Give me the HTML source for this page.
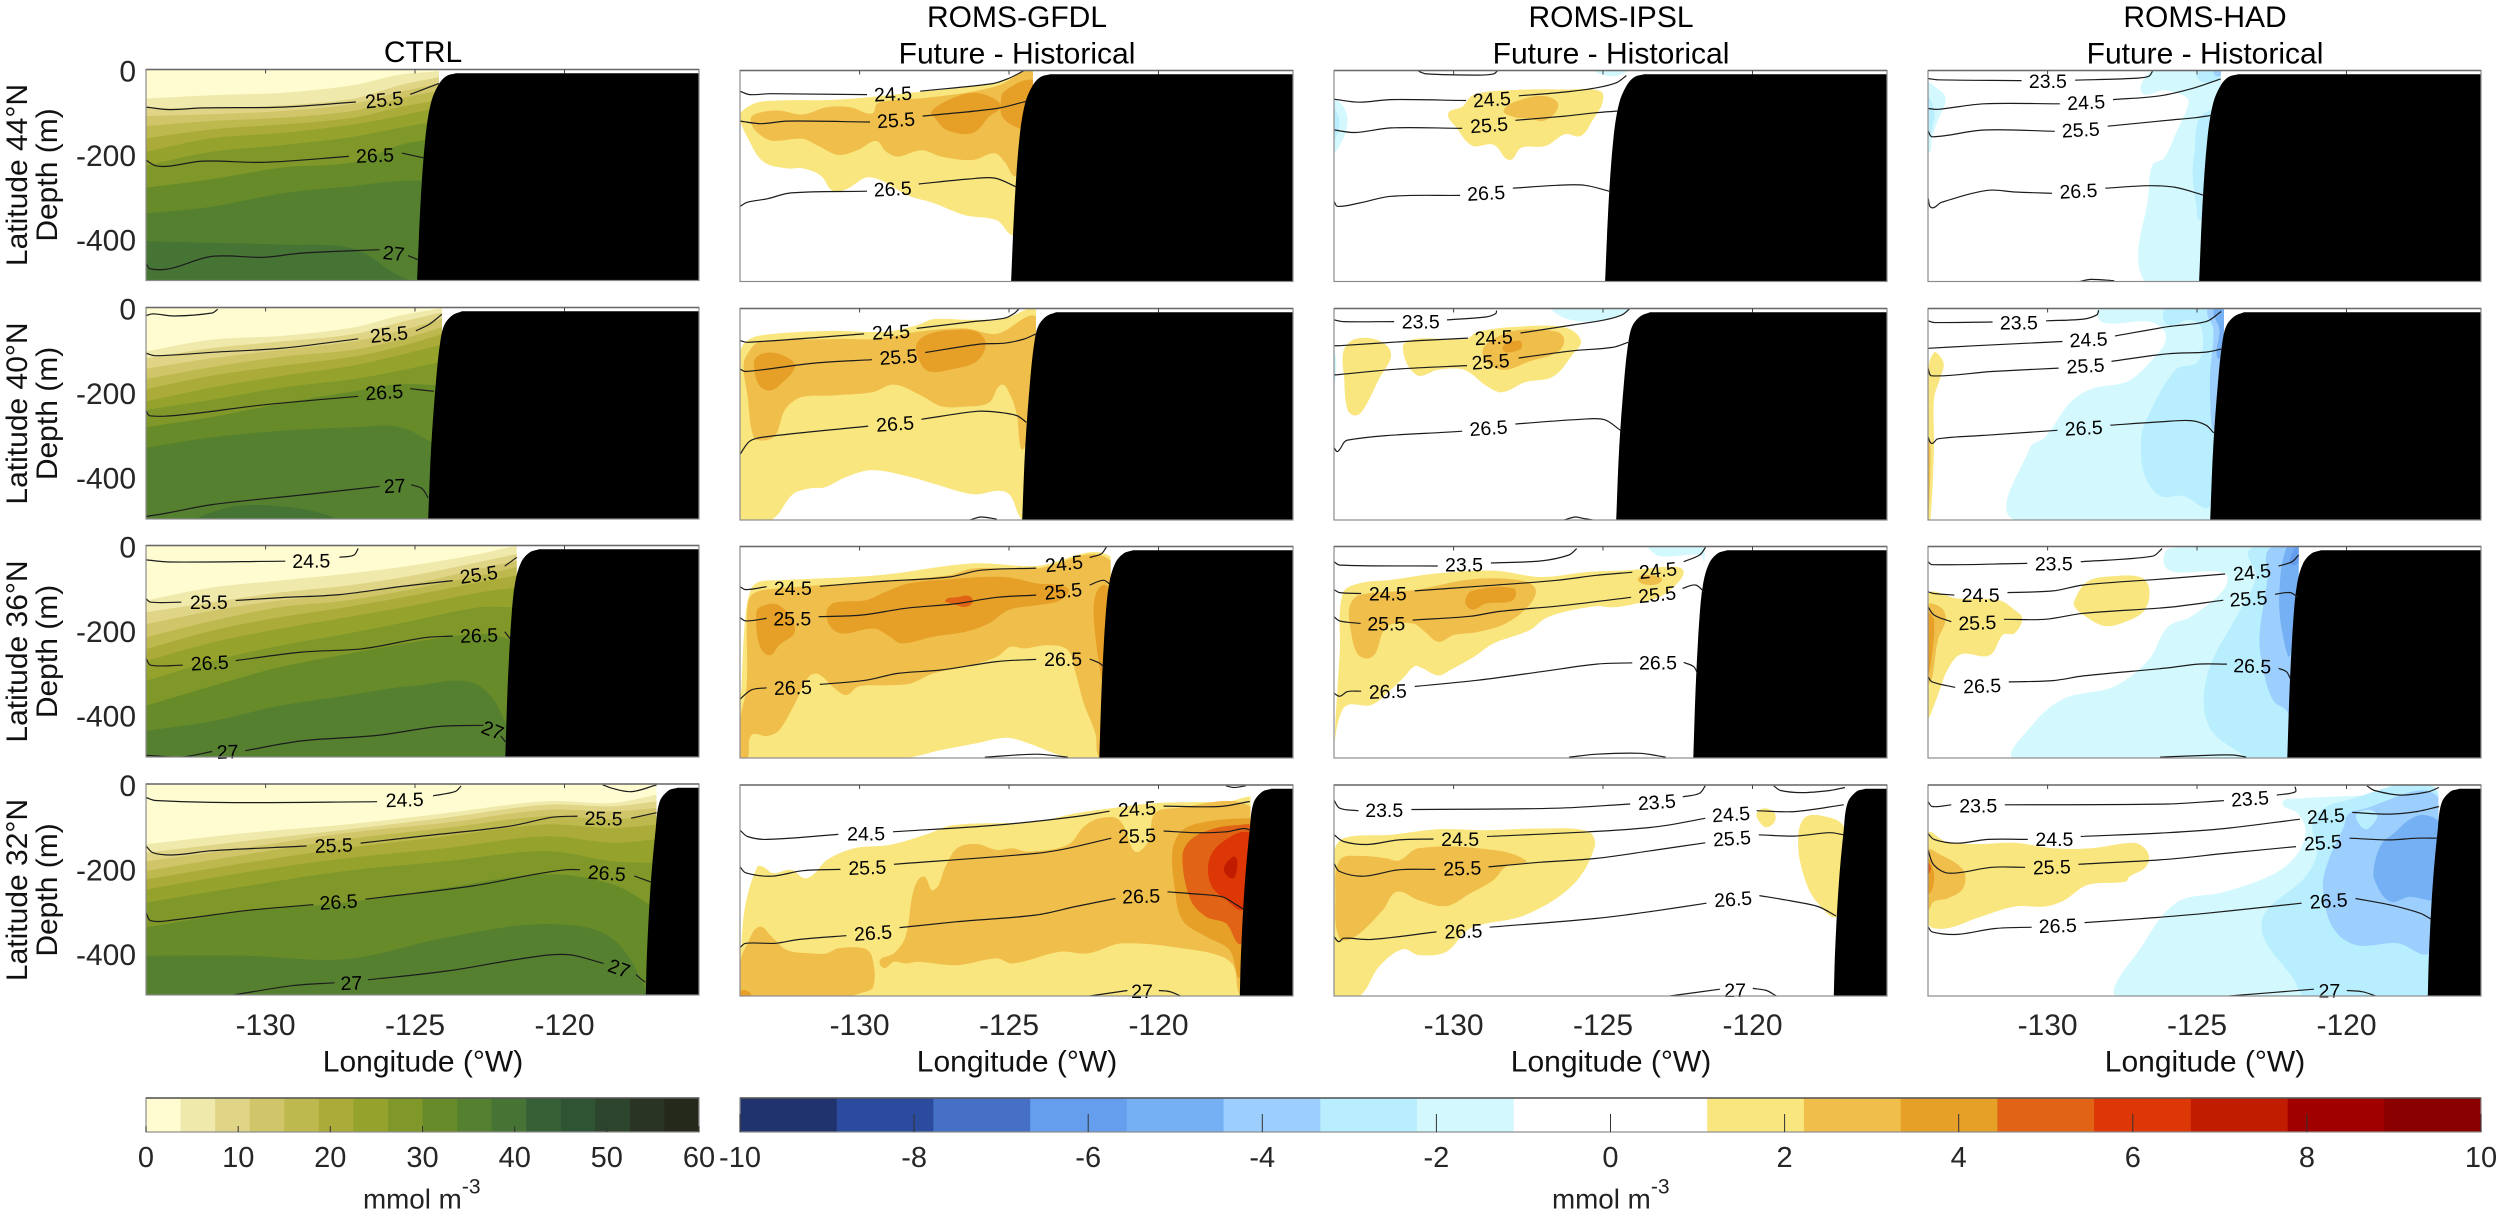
<!DOCTYPE html>
<html lang="en">
<head>
<meta charset="utf-8">
<title>Nitrate sections by latitude</title>
<style>
html,body{margin:0;padding:0;background:#fff}
svg{display:block}
text{font-family:"Liberation Sans",Arial,sans-serif}
.title{font-size:30px;fill:#000;text-anchor:middle}
.axis{font-size:30px;fill:#111;text-anchor:middle}
.xlab{font-size:30px;fill:#111;text-anchor:middle}
.unit{font-size:27.8px;fill:#222}
.sup{font-size:21px;fill:#222}
</style>
</head>
<body>
<svg id="chart" xmlns="http://www.w3.org/2000/svg" width="2500" height="1216" viewBox="0 0 2500 1216">
<rect width="2500" height="1216" fill="#fff"/>
<g id="panels"></g>
<g id="bars"></g>
<text class="title" x="423" y="62">CTRL</text>
<text class="title" x="1017" y="27">ROMS-GFDL</text>
<text class="title" x="1017" y="63.5">Future - Historical</text>
<text class="title" x="1611" y="27">ROMS-IPSL</text>
<text class="title" x="1611" y="63.5">Future - Historical</text>
<text class="title" x="2205" y="27">ROMS-HAD</text>
<text class="title" x="2205" y="63.5">Future - Historical</text>
<text class="axis" transform="translate(27,175) rotate(-90)">Latitude 44°N</text>
<text class="axis" transform="translate(57,175) rotate(-90)">Depth (m)</text>
<text class="axis" transform="translate(27,413.5) rotate(-90)">Latitude 40°N</text>
<text class="axis" transform="translate(57,413.5) rotate(-90)">Depth (m)</text>
<text class="axis" transform="translate(27,651.5) rotate(-90)">Latitude 36°N</text>
<text class="axis" transform="translate(57,651.5) rotate(-90)">Depth (m)</text>
<text class="axis" transform="translate(27,890) rotate(-90)">Latitude 32°N</text>
<text class="axis" transform="translate(57,890) rotate(-90)">Depth (m)</text>
<text class="xlab" x="423" y="1071.5">Longitude (°W)</text>
<text class="xlab" x="1017" y="1071.5">Longitude (°W)</text>
<text class="xlab" x="1611" y="1071.5">Longitude (°W)</text>
<text class="xlab" x="2205" y="1071.5">Longitude (°W)</text>
<text class="unit" x="363" y="1208.5">mmol m<tspan class="sup" dy="-15">-3</tspan></text>
<text class="unit" x="1552" y="1208.5">mmol m<tspan class="sup" dy="-15">-3</tspan></text>
</svg>
<script>
// ---- axes / colour data ----
const lonTicks = [-130, -125, -120];
const depthTicks = [0, -200, -400];
const ctrlBarTicks = [0, 10, 20, 30, 40, 50, 60];
const diffBarTicks = [-10, -8, -6, -4, -2, 0, 2, 4, 6, 8, 10];
const ctrlColors = ['#FEFCD0','#EFE9AB','#E0D586','#D0C568','#BEB94E','#AAAB38','#95A32D','#7F9829','#678B29','#548030','#467434','#366136','#2F5433','#2D452D','#2A3425','#24291C'];
const diffColors = ['#20336F','#2B4C9E','#4670C6','#669EEE','#76B0F4','#9CCEFE','#B8EEFE','#D3F9FE','#FFFFFF','#FFFFFF','#F9E67E','#F0BE4B','#E6A027','#E06316','#DC3705','#C21C00','#A00000','#8A0000'];
const seaEdge = [-124.2, -124.1, -121.6, -116.92];
const coast44 = [-123.63,9, -123.96,16, -124.22,37, -124.46,77, -124.65,159, -124.82,322, -124.93,500];
const coast40 = [-123.43,9, -123.76,19, -124.03,43, -124.16,84, -124.29,166, -124.46,329, -124.56,500];
const coast36 = [-120.85,9, -121.18,17, -121.45,40, -121.65,87, -121.78,174, -121.9,331, -121.98,500];
const coast32 = [-116.22,9, -116.53,16, -116.82,43, -116.95,107, -117.12,241, -117.24,399, -117.28,500];

// ---- CTRL background nitrate bands: [level, depths at the grid longitudes] ----
const ctrl44Lons = [-134, -131.8, -129.4, -127.05, -125.5, -124.2];
const ctrl44Bands = [[1,69,61,55,37,12,4],[2,91,91,85,69,37,18],[3,110,106,98,81,53,33],[4,134,122,114,98,69,50],[5,163,142,130,114,89,73],[6,195,163,150,130,110,89],[7,228,195,179,159,138,122],[8,280,260,232,220,179,163],[9,341,325,293,276,264,264],[10,407,411,415,425,490,520]];
const ctrl40Lons = [-134, -131.8, -129.4, -127.05, -125.5, -124.1];
const ctrl40Bands = [[1,104,76,67,47,19,2],[2,120,96,80,63,35,11],[3,145,120,100,80,55,27],[4,169,141,116,100,76,47],[5,193,161,137,116,92,63],[6,222,189,161,137,112,88],[7,242,218,189,169,149,128],[8,283,259,226,198,181,185],[9,332,307,291,283,283,332]];
const ctrl40Patch = [[10,[-132.3,510,-131,470,-128.63,478,-127.53,510]]];
const ctrl36Lons = [-134, -131.77, -129.54, -127.31, -125.08, -122.85, -121.6];
const ctrl36Bands = [[1,130,99,83,67,47,20,0],[2,158,134,111,95,71,39,20],[3,186,154,130,115,91,55,36],[4,217,178,146,130,103,71,51],[5,245,201,170,146,118,87,71],[6,273,229,197,170,142,111,99],[7,320,273,237,209,178,146,146],[8,379,332,288,257,229,209,225],[9,438,415,379,355,332,332,474]];
const ctrl32Lons = [-134, -130.66, -127.31, -123.97, -120.62, -118.39, -116.89];
const ctrl32Bands = [[1,143,116,96,69,41,45,25],[2,163,135,108,80,49,53,41],[3,183,151,116,92,61,65,57],[4,206,167,131,104,76,84,72],[5,226,187,152,124,96,104,96],[6,250,209,176,152,124,139,131],[7,281,242,206,183,159,183,187],[8,340,301,281,246,214,238,297],[9,407,407,415,364,332,367,540]];

// ---- CTRL density contours ----
const ctrl44Lines = [[-134,89,-133.21,95,-132.1,91,-129.42,89,-126.98,77],[-125.16,59,-124.2,33],[-134,215,-133.68,228,-133.21,229,-132.1,217,-130.05,220,-127.21,206],[-125.44,198,-124.69,210],[-134,459,-133.87,472,-133.21,472,-131.79,443,-130.05,445,-128.79,435,-126.19,427],[-125.24,441,-124.89,451]];
const ctrl44Labels = [['25.5',-126.03,71,-6],['26.5',-126.34,203,-2],['27',-125.71,435,6]];
const ctrl40Lines = [[-134,19,-133.76,15,-133.05,20,-131.79,13,-131.6,4],[-134,108,-133.68,114,-131.79,106,-129.42,96,-126.9,74],[-124.97,55,-124.53,40,-124.1,16],[-134,244,-133.87,256,-132.82,254,-130.05,230,-126.9,210],[-125.16,192,-124.37,198],[-134,494,-133.45,488,-131.79,466,-128.63,442,-126.19,423],[-125.13,419,-124.77,428,-124.56,450]];
const ctrl40Labels = [['25.5',-125.87,63,-6],['26.5',-126.03,200,-4],['27',-125.68,421,-3]];
const ctrl36Lines = [[-134,34,-133.21,39,-129.34,37],[-127.53,28,-127.05,23,-126.9,7],[-134,126,-133.84,134,-132.82,134],[-131,130,-129.42,123,-127.53,116,-125.48,97,-123.74,83],[-122,49,-121.6,28],[-134,267,-133.84,283,-132.77,283],[-131,272,-128.79,252,-126.74,244,-124.69,218,-123.74,214],[-122,204,-121.81,221],[-134,496,-132.82,500,-131.79,487],[-130.68,485,-128.79,462,-126.27,449,-124.21,428,-122.71,425],[-122.13,450,-121.97,465]];
const ctrl36Labels = [['24.5',-128.47,36,-1],['25.5',-131.9,134,0],['25.5',-122.87,68,-8],['26.5',-131.87,277,-3],['26.5',-122.86,212,-2],['27',-131.27,487,-2],['27',-122.4,436,22]];
const ctrl32Lines = [[-134,32,-133.68,39,-131,44,-126.27,42],[-124.4,28,-123.66,18,-123.46,5],[-118.72,2,-118.37,11,-117.74,18,-116.92,2],[-134,147,-133.76,163,-133.05,168,-131.79,158,-128.63,147],[-126.82,140,-124.69,123,-121.85,100,-120.42,79,-119.56,76],[-117.77,81,-116.92,68],[-134,305,-133.84,324,-133.05,322,-130.53,299,-128.4,286],[-126.66,273,-123.11,242,-121.06,215,-119.95,203,-119.48,203],[-117.66,218,-117.08,233],[-131.08,500,-129.11,478,-127.69,471],[-126.58,464,-123.9,443,-121.53,415,-119.95,404,-118.69,425],[-117.61,452,-117.3,470]];
const ctrl32Labels = [['24.5',-125.35,37,-2],['25.5',-127.72,145,-2],['25.5',-118.69,81,1],['26.5',-127.56,279,-4],['26.5',-118.58,211,4],['27',-127.13,471,-2],['27',-118.17,436,20]];

// ---- ROMS-GFDL ----
const gfdl44Fill = [
[1,[-134,102,-133.48,77,-132.69,71,-130.71,69,-128.06,51,-125.41,29,-124.49,0,-124.22,0,-124.1,0,-124.1,396,-124.91,390,-125.41,355,-126.47,343,-127.53,314,-128.32,298,-129.65,253,-130.44,281,-130.9,285,-131.3,249,-131.9,232,-132.43,232,-133.22,216,-133.75,159,-134,118]],
[2,[-133.62,110,-133.35,100,-132.69,95,-131.9,104,-131.1,87,-130.31,87,-129.58,102,-129.38,77,-127.8,65,-126.47,53,-125.41,37,-124.1,8,-124.1,159,-124.75,249,-125.15,216,-125.48,196,-126.21,212,-127.27,204,-127.93,189,-128.72,204,-129.12,192,-129.45,167,-130.04,188,-130.71,200,-131.37,179,-131.9,162,-132.95,166,-133.42,147,-133.62,126]],
[3,[-127.6,98,-127,69,-126.21,53,-125.55,65,-125.28,86,-125.68,110,-126.08,143,-126.47,151,-127.13,139,-127.46,114]],
[3,[-125.28,86,-125.15,49,-124.1,24,-124.1,77,-124.49,135,-124.88,130,-125.22,110]]];
const gfdl44Lines = [[-134,49,-133.68,57,-132.96,55,-129.75,57],[-127.97,49,-125.55,31,-125.02,19,-124.49,0],[-134,120,-133.29,126,-132.43,120,-129.65,122],[-127.89,108,-125.42,90,-124.42,73],[-134,322,-133.75,312,-133.09,304,-132.29,290,-129.75,286],[-128.02,269,-126.34,257,-125.48,255,-124.75,276]];
const gfdl44Labels = [['24.5',-128.88,55,-3],['25.5',-128.78,117,-4],['26.5',-128.89,280,-3]];
const gfdl40Fill = [
[1,[-134,117,-133.88,84,-133.35,64,-130.97,53,-129.12,55,-128.06,39,-127.53,25,-126.21,27,-125.15,23,-124.02,7,-124.02,500,-124.55,500,-125.08,435,-126.21,439,-127.53,414,-128.32,398,-129.58,382,-130.44,398,-131.17,423,-131.63,425,-132.23,439,-132.96,500,-134,500]],
[2,[-133.88,133,-133.68,100,-133.35,80,-130.71,72,-129.38,72,-128.06,55,-126.47,47,-125.41,60,-124.02,23,-124.02,166,-124.49,329,-124.75,247,-124.95,206,-125.25,180,-125.68,223,-126.47,232,-127.27,231,-127.93,206,-128.85,180,-129.58,198,-130.97,206,-131.96,210,-132.49,239,-132.82,300,-133.22,312,-133.55,303,-133.75,206]],
[3,[-133.48,117,-133.02,104,-132.49,113,-132.16,137,-132.69,182,-133.02,194,-133.35,182,-133.51,149]],
[3,[-128.09,84,-127.66,60,-126.87,51,-126.08,55,-125.78,84,-126.08,125,-126.87,143,-127.66,149,-127.99,125]]];
const gfdl40Lines = [[-134,76,-133.75,80,-129.85,60],[-128.09,47,-126.21,31,-125.15,23,-124.82,11,-124.66,0],[-134,143,-133.81,149,-131.5,129,-129.58,121],[-127.8,104,-125.94,84,-125.15,82,-124.49,72,-124.1,60],[-134,345,-133.68,314,-133.22,304,-129.71,278],[-127.93,262,-126.08,243,-125.41,245,-124.75,253,-124.42,269],[-126.31,500,-125.94,493,-125.41,498]];
const gfdl40Labels = [['24.5',-128.95,55,-3],['25.5',-128.7,114,-4],['26.5',-128.81,272,-4]];
const gfdl36Fill = [
[1,[-134,500,-133.95,331,-133.81,158,-133.62,99,-133.35,83,-132.69,80,-129.38,68,-126.21,40,-124.09,46,-121.6,24,-121.45,174,-121.45,500,-123.03,498,-124.36,465,-125.08,452,-126.08,465,-127.27,481,-128.52,500]],
[2,[-134,500,-133.99,410,-133.78,331,-133.75,143,-133.55,111,-132.69,99,-129.38,83,-127,68,-126.21,52,-124.09,52,-121.71,28,-121.45,174,-121.45,500,-121.97,500,-122.11,442,-122.5,371,-122.77,300,-123.03,245,-123.69,233,-124.49,241,-124.95,237,-125.41,261,-126.47,284,-127.53,300,-128.32,324,-129.12,328,-130.04,331,-130.44,351,-130.84,335,-131.37,302,-131.7,308,-132.16,371,-132.69,434,-133.09,448,-133.62,446,-133.75,500]],
[3,[-133.46,166,-133.35,144,-132.69,139,-132.16,198,-132.69,233,-133.02,257,-133.35,233]],
[3,[-131.1,154,-130.84,133,-129.78,127,-129.12,107,-128.32,87,-126.74,76,-125.15,72,-124.09,87,-123.03,99,-123.29,127,-124.09,139,-125.01,150,-125.68,182,-126.47,202,-127.53,213,-128.59,229,-128.99,213,-129.51,194,-130.57,206,-130.97,190]],
[3,[-122.17,143,-122.04,103,-121.78,91,-121.58,119,-121.71,253,-121.84,316,-121.97,284,-122.11,213]],
[4,[-127.13,127,-126.74,120,-126.34,117,-126.21,131,-126.47,143,-126.87,135]]];
const gfdl36Lines = [[-134,95,-133.81,102,-133.11,95],[-131.33,94,-129.38,83,-127,72,-125.94,56,-124.09,51],[-122.3,26,-121.91,17,-121.74,1],[-134,168,-133.81,176,-133.11,170],[-131.37,166,-129.91,162,-128.46,146,-126.74,135,-125.41,120,-124.09,115],[-122.3,91,-121.84,80,-121.6,91],[-134,361,-133.62,339,-133.11,334],[-131.33,326,-129.78,316,-128.72,300,-127.27,292,-125.41,272,-124.09,267],[-122.3,266,-121.97,276,-121.84,284],[-125.81,498,-124.09,491,-123.03,498]];
const gfdl36Labels = [['24.5',-132.23,98,0],['24.5',-123.16,40,-6],['25.5',-132.25,170,0],['25.5',-123.19,105,-6],['26.5',-132.23,333,-2],['26.5',-123.19,266,0]];
const gfdl32Fill = [
[1,[-134,500,-133.95,375,-133.81,280,-133.42,194,-133.22,194,-132.89,209,-132.29,201,-131.83,221,-131.5,209,-131.1,178,-130.18,150,-128.99,142,-127.8,118,-126.87,95,-124.09,87,-122.77,67,-121.58,55,-120.12,43,-117.74,40,-116.68,37,-116.68,500]],
[2,[-134,500,-134,423,-133.75,375,-133.35,336,-132.95,359,-132.43,391,-131.63,399,-131.1,399,-130.71,387,-129.85,387,-129.58,407,-129.54,478,-129.91,492,-130.44,500]],
[2,[-129.32,415,-128.85,399,-128.46,359,-128.19,249,-127.86,217,-127.53,249,-127.13,194,-126.74,150,-126.08,140,-125.41,154,-124.88,150,-124.36,158,-123.03,142,-122.5,99,-121.97,79,-121.31,83,-120.85,154,-120.65,158,-120.32,130,-120.12,67,-119.46,55,-116.95,50,-116.68,162,-116.68,500,-117.24,500,-117.48,430,-117.87,407,-118.8,391,-121.18,375,-122.37,399,-123.3,395,-124.88,423,-125.41,411,-126.74,427,-128.06,419,-128.46,423,-128.85,419,-129.18,434]],
[3,[-119.53,154,-119.2,107,-118.41,87,-117.08,79,-116.88,83,-116.88,241,-117.28,454,-117.62,391,-118.41,359,-119.2,320,-119.46,241]],
[3,[-134,500,-134,490,-133.81,486,-133.64,500]],
[4,[-119.2,170,-118.93,130,-118.14,103,-117.34,95,-116.88,99,-116.88,280,-117.21,375,-117.74,328,-118.41,312,-118.93,272]],
[5,[-118.34,194,-118.14,154,-117.48,118,-117.08,111,-116.88,118,-116.88,241,-117.14,296,-117.74,272,-118.21,241]],
[6,[-117.81,197,-117.5,170,-117.37,178,-117.44,217,-117.64,219]]];
const gfdl32Lines = [[-134,107,-133.75,122,-133.09,129,-130.71,117],[-128.88,111,-125.41,95,-122.77,75,-121.64,62],[-119.83,50,-117.95,51,-116.95,39],[-134,194,-133.81,208,-132.95,216,-131.9,203,-130.64,200],[-128.85,188,-124.09,162,-123.03,150,-121.58,126],[-119.83,109,-118.8,113,-117.74,111,-117.14,103,-116.92,107],[-134,385,-133.81,375,-132.82,375,-132.03,366,-130.44,357],[-128.66,338,-126.74,324,-124.09,308,-122.77,288,-121.44,269],[-119.7,253,-118.8,258,-117.87,265,-117.48,280,-117.14,295],[-122.3,500,-121.04,487],[-119.99,487,-119.6,490,-119.26,500],[-117.74,2,-117.48,6,-117.08,2]];
const gfdl32Labels = [['24.5',-129.78,115,0],['24.5',-120.72,56,-4],['25.5',-129.74,195,-2],['25.5',-120.72,120,-2],['26.5',-129.55,350,-4],['26.5',-120.58,263,-2],['27',-120.55,488,0]];

// ---- ROMS-IPSL ----
const ipsl44Fill = [
[-1,[-134,69,-133.68,86,-133.55,118,-133.68,159,-134,190]],
[-2,[-134,94,-133.84,110,-133.84,143,-134,159]],
[-1,[-125.22,0,-124.69,14,-124.22,4,-124.22,0]],
[1,[-130.18,102,-129.71,86,-129.32,57,-127.86,46,-126.27,45,-125.08,49,-125.02,77,-125.35,118,-125.74,155,-126.27,151,-126.93,179,-127.73,183,-128.13,212,-128.66,176,-129.38,178,-129.91,135]],
[2,[-128.32,94,-127.73,69,-126.93,61,-126.5,82,-126.93,118,-127.46,114,-127.99,110]]];
const ipsl44Lines = [[-131.17,2,-130.91,8,-129.19,11,-128.66,8,-128.52,0],[-134,68,-133.15,75,-132.09,69,-129.58,71],[-127.82,60,-126.27,51,-125.22,41,-124.55,29,-124.22,12],[-134,141,-133.29,147,-132.09,136,-129.71,137],[-127.93,118,-126.27,108,-125.22,100,-124.49,96],[-134,310,-133.88,322,-133.15,314,-132.09,298,-129.78,296],[-128.02,279,-126.54,272,-125.61,272,-124.75,287]];
const ipsl44Labels = [['24.5',-128.72,68,-4],['25.5',-128.81,129,-4],['26.5',-128.91,290,-3]];
const ipsl40Fill = [
[-1,[-126.67,0,-126.27,23,-125.35,31,-124.42,15,-124.09,0]],
[-1,[-134,100,-133.92,133,-134,174]],
[1,[-133.68,100,-133.29,72,-132.49,76,-132.09,108,-132.49,166,-133.02,239,-133.29,253,-133.55,239,-133.66,166]],
[1,[-131.7,92,-131.3,72,-129.58,72,-129.19,55,-127.86,43,-126.27,45,-125.74,76,-126.01,108,-126.67,161,-127.6,174,-128.39,198,-128.92,182,-129.65,145,-130.51,145,-131.24,157]],
[2,[-129.03,100,-128.66,72,-127.86,51,-126.54,55,-126.3,76,-126.54,104,-127.46,125,-128.26,145,-128.79,133]],
[3,[-128.36,96,-127.8,76,-127.76,96]]];
const ipsl40Lines = [[-134,27,-133.68,31,-131.99,31],[-130.22,27,-128.93,20,-128.59,12,-128.56,5],[-134,88,-133.81,88,-131.17,76,-129.52,70],[-127.76,58,-126.01,39,-124.95,27,-124.36,15,-124.1,0],[-134,157,-133.81,156,-131.83,143,-129.55,135],[-127.82,117,-126.01,100,-124.69,92,-124.16,80],[-134,329,-133.88,338,-133.55,311,-129.71,290],[-127.93,273,-125.74,262,-124.95,263,-124.42,288],[-126.3,500,-125.94,493,-125.68,496,-125.35,500]];
const ipsl40Labels = [['23.5',-131.1,31,0],['24.5',-128.66,68,-3],['25.5',-128.76,125,-4],['26.5',-128.83,282,-4]];
const ipsl36Fill = [
[-1,[-123.47,5,-123.1,23,-121.71,20,-121.62,36,-121.58,0,-123.47,0]],
[1,[-134,500,-133.95,410,-133.81,252,-133.71,111,-133.15,87,-132.09,79,-130.64,64,-128.66,57,-127.07,72,-125.48,60,-124.16,56,-122.57,48,-122.3,60,-122.57,91,-123.1,119,-123.89,135,-124.69,144,-125.22,141,-126.27,154,-126.93,170,-127.46,198,-128.66,229,-129.32,261,-130.11,292,-130.51,305,-131.04,288,-131.3,283,-131.7,312,-132.23,347,-132.76,375,-133.55,375,-133.81,402,-134,473]],
[2,[-133.48,143,-133.15,115,-131.3,103,-129.45,78,-127.86,79,-127.27,99,-127.46,138,-128.26,182,-129.18,202,-129.98,209,-130.51,225,-130.97,201,-131.37,182,-132.23,190,-132.62,253,-132.89,265,-133.22,253,-133.42,206]],
[3,[-129.61,131,-129.38,105,-127.99,99,-128.02,127,-128.92,135,-129.38,149]],
[2,[-123.83,76,-123.36,68,-123.03,80,-123.5,91]]];
const ipsl36Lines = [[-134,36,-133.81,44,-130.53,46],[-128.75,39,-127.07,34,-126.14,20,-125.88,5],[-134,102,-133.81,109,-133.09,111],[-131.3,105,-129.18,94,-126.54,80,-125.22,68,-124.02,61],[-122.3,36,-121.77,20,-121.57,2],[-134,166,-133.81,176,-133.11,182],[-131.37,174,-129.45,165,-128.52,154,-126.27,139,-124.06,120],[-122.34,99,-121.91,91,-121.62,107],[-134,347,-133.81,354,-133.55,343,-133.09,342],[-131.3,331,-129.18,316,-127.07,296,-125.22,278,-124.02,275],[-122.3,274,-121.97,284,-121.84,300],[-126.14,498,-125.22,491,-123.76,489,-122.9,498]];
const ipsl36Labels = [['23.5',-129.65,43,0],['24.5',-132.2,111,0],['24.5',-123.16,56,-6],['25.5',-132.25,182,0],['25.5',-123.19,113,-6],['26.5',-132.2,342,-2],['26.5',-123.16,274,0]];
const ipsl32Fill = [
[1,[-134,500,-133.15,500,-132.49,430,-131.7,389,-131.17,403,-130.24,395,-129.45,340,-127.6,308,-126.01,237,-125.28,146,-125.48,111,-126.93,103,-128.92,107,-130.51,105,-132.09,118,-133.68,126,-134,162]],
[2,[-133.81,178,-133.15,168,-132.23,174,-131.83,179,-131.17,150,-129.18,150,-127.6,178,-128.26,194,-128.66,225,-129.45,257,-130.24,287,-131.17,273,-131.9,253,-132.36,296,-133.29,359,-133.81,363,-133.95,265]],
[1,[-119.86,67,-119.6,55,-119.26,67,-119.26,87,-119.53,100,-119.77,87]],
[1,[-118.47,146,-118.27,79,-117.55,75,-116.95,99,-116.75,241,-117.15,312,-117.81,280,-118.2,233]]];
const ipsl32Lines = [[-134,36,-133.81,55,-133.18,61],[-131.41,58,-126.54,55,-124.09,45],[-122.33,28,-121.78,20,-121.58,2],[-119.29,2,-119.06,13,-118.34,18,-117.41,13,-116.91,6],[-134,118,-133.68,134,-132.89,141,-131.83,130,-130.67,128],[-128.88,122,-125.48,111,-123.23,99,-121.58,79],[-119.86,61,-118.6,63,-116.95,47],[-134,186,-133.81,205,-133.02,216,-131.83,201,-130.61,200],[-128.83,194,-127.07,183,-125.22,174,-123.23,154,-121.58,137],[-119.79,118,-118.6,121,-117.41,113,-116.95,118],[-134,359,-133.84,371,-133.68,363,-132.76,366,-130.57,348],[-128.79,337,-125.22,316,-123.23,298,-121.54,280],[-119.77,262,-118.6,276,-117.81,288,-117.21,310],[-122.77,500,-121.09,484],[-119.99,482,-119.53,487,-119.2,500]];
const ipsl32Labels = [['23.5',-132.32,59,0],['23.5',-123.2,40,-4],['24.5',-129.78,128,0],['24.5',-120.72,69,-4],['25.5',-129.71,197,-2],['25.5',-120.69,126,-4],['26.5',-129.67,346,-2],['26.5',-120.65,270,-4],['27',-120.58,486,0]];

// ---- ROMS-HAD ----
const had44Fill = [
[-1,[-134,29,-133.8,37,-133.41,65,-133.67,118,-133.86,159,-133.92,192,-134,192]],
[-2,[-134,65,-133.8,94,-133.8,118,-134,155]],
[-1,[-126.49,2,-126.88,37,-126.75,57,-126.11,47,-125.4,61,-125.28,77,-125.72,151,-126.11,208,-126.49,224,-126.62,290,-126.75,500,-124.7,500,-124.19,0]],
[-2,[-125.08,192,-124.96,118,-124.57,94,-124.44,106,-124.7,322,-124.89,355,-125.02,322,-125.15,241]],
[-2,[-125.02,14,-124.83,0,-124.21,0,-124.21,16,-124.7,29]],
[-3,[-124.44,0,-124.21,0,-124.21,12,-124.38,12]]];
const had44Lines = [[-134,19,-133.67,22,-130.87,24],[-129.08,23,-127.26,19,-126.62,14,-126.49,2],[-134,90,-133.67,92,-132.13,79,-129.59,79],[-127.81,69,-126.24,60,-125.08,41,-124.21,20],[-134,143,-133.86,157,-132.13,141,-129.76,144],[-127.99,132,-125.98,118,-125.08,112,-124.47,106],[-134,302,-133.88,325,-133.54,312,-132,284,-131.1,288,-129.85,291],[-128.07,279,-126.62,273,-125.72,277,-124.76,296],[-128.93,500,-128.55,495,-127.77,498]];
const had44Labels = [['23.5',-129.99,25,0],['24.5',-128.71,75,-3],['25.5',-128.89,140,-3],['26.5',-128.97,285,-3]];
const had40Fill = [
[1,[-134,149,-133.8,104,-133.6,113,-133.47,133,-133.6,166,-133.8,214,-133.8,329,-133.92,500,-134,500]],
[2,[-134,304,-133.92,329,-133.95,443,-134,484]],
[-1,[-128.29,2,-128.16,33,-126.62,31,-126.11,51,-126.05,76,-126.24,100,-127.26,170,-128.54,190,-129.25,223,-130.08,304,-130.59,329,-131.1,500,-124.51,500,-124.06,0]],
[-2,[-126.05,2,-125.98,39,-125.21,27,-124.83,51,-124.96,125,-125.72,145,-126.75,272,-126.88,329,-126.75,394,-126.24,443,-125.47,443,-124.57,467,-124.38,288,-124.06,84,-124.06,2]],
[-3,[-124.64,2,-124.45,51,-124.57,174,-124.38,280,-124.06,84,-124.06,0]],
[-4,[-124.44,2,-124.25,51,-124.32,117,-124.08,84,-124.06,0]]];
const had40Lines = [[-134,29,-133.8,33,-131.84,32],[-130.05,29,-128.8,25,-128.35,15,-128.29,4],[-134,94,-132.39,88,-129.5,78],[-127.74,65,-125.98,43,-124.7,31,-124.19,7],[-134,141,-133.88,159,-131.87,149,-129.63,141],[-127.86,125,-125.98,107,-124.7,103,-124.19,96],[-134,303,-133.88,319,-133.67,308,-132.13,300,-129.67,288],[-127.9,276,-126.24,268,-125.21,265,-124.7,276,-124.44,294]];
const had40Labels = [['23.5',-130.96,33,0],['24.5',-128.63,73,-3],['25.5',-128.73,135,-3],['26.5',-128.79,282,-3]];
const had36Fill = [
[1,[-134,115,-133.03,123,-131.62,127,-131.1,150,-130.85,170,-131.1,205,-131.49,209,-131.94,257,-132.9,255,-133.35,292,-133.73,363,-134,402]],
[2,[-134,139,-133.54,146,-133.41,174,-133.67,221,-133.86,308,-134,324]],
[3,[-134,158,-133.8,174,-133.86,253,-134,300]],
[1,[-129.12,131,-128.67,83,-127.77,70,-126.88,73,-126.6,99,-126.75,150,-127.39,178,-128.09,188,-128.8,162,-129.06,146]],
[-1,[-125.92,5,-126.11,40,-125.79,60,-124.06,64,-124.12,103,-125.21,166,-125.98,190,-126.62,268,-127.77,331,-129.44,359,-130.46,418,-131.1,500,-121.95,500,-121.56,0]],
[-2,[-123.23,7,-123.03,72,-123.68,166,-124.38,253,-124.7,316,-124.76,387,-124.44,442,-123.55,489,-123.29,500,-121.95,500,-121.56,0]],
[-3,[-122.58,5,-122.65,80,-122.91,213,-122.78,292,-122.46,363,-122.01,387,-121.88,402,-121.63,95,-121.56,0]],
[-4,[-122.02,5,-122.25,119,-122.14,206,-121.88,257,-121.63,95,-121.6,0]],
[-5,[-121.75,5,-121.88,40,-121.63,40,-121.6,0]]];
const had36Lines = [[-134,36,-133.86,43,-130.68,40],[-128.89,36,-126.49,23,-126.17,5],[-134,107,-133.8,111,-133.12,115],[-131.34,109,-129.82,105,-128.8,91,-125.98,76,-124.06,65],[-122.27,46,-121.82,36,-121.6,20],[-134,143,-133.8,162,-133.22,178],[-131.46,172,-130.08,172,-128.8,158,-125.98,144,-124.12,127],[-122.39,113,-121.88,109,-121.63,120],[-134,308,-133.86,320,-133.09,333],[-131.3,320,-129.82,317,-128.8,306,-125.98,287,-124.96,278,-124,278],[-122.27,288,-122.01,296,-121.88,312],[-126.24,498,-124.83,494,-123.8,493,-123.35,498]];
const had36Labels = [['23.5',-129.79,40,0],['24.5',-132.24,115,0],['24.5',-123.16,60,-6],['25.5',-132.35,180,-2],['25.5',-123.28,123,-4],['26.5',-132.19,329,-2],['26.5',-123.15,282,2]];
const had32Fill = [
[1,[-134,115,-133.41,134,-132.39,140,-131.1,137,-129.82,150,-128.54,150,-127.13,137,-126.75,150,-126.6,174,-126.75,197,-127.26,217,-127.39,229,-128.67,237,-129.44,273,-130.08,288,-131.1,288,-132.39,316,-133.41,340,-134,328]],
[2,[-134,154,-133.67,162,-132.83,201,-132.83,245,-133.35,269,-133.8,276,-134,296]],
[3,[-134,178,-133.8,209,-133.86,249,-134,257]],
[4,[-134,186,-133.9,197,-134,209]],
[-1,[-122.14,43,-121.63,32,-118.94,24,-116.89,20,-116.89,500,-127.71,500,-127.71,470,-127.01,399,-125.72,280,-124.06,253,-122.39,209,-121.63,162,-121.37,107,-121.63,67]],
[-2,[-120.22,40,-116.91,24,-116.89,500,-121.37,500,-121.75,462,-122.84,328,-121.37,217,-120.99,162,-121.11,83]],
[-3,[-119.96,71,-119.58,59,-116.91,32,-116.89,320,-117.21,399,-118.29,375,-119.7,379,-120.47,336,-120.79,241,-120.6,178,-120.09,99]],
[-2,[-119.64,67,-119,67,-119.26,103,-119.51,99]],
[-4,[-119.06,186,-118.81,138,-118.42,115,-117.91,83,-117.4,71,-116.91,91,-116.95,265,-117.91,265,-118.55,276,-119.06,225]]];
const had32Lines = [[-134,39,-133.86,51,-133.22,47],[-131.43,47,-125.98,45,-124.1,37],[-122.33,24,-121.71,16,-121.72,4],[-119.32,2,-119.06,13,-118.17,24,-117.27,16,-116.91,6],[-134,115,-133.8,129,-133.03,138,-132,129,-130.66,129],[-128.89,122,-125.98,113,-124.06,103,-121.56,81],[-119.81,65,-118.55,69,-117.65,63,-116.91,51],[-134,154,-133.8,190,-133.28,209,-131.87,195,-130.75,195],[-128.97,188,-125.98,176,-124.06,162,-121.69,146],[-119.9,126,-118.55,130,-117.65,126,-116.94,126],[-134,336,-133.86,348,-133.03,354,-131.75,340,-130.53,337],[-128.76,326,-126.75,316,-124.7,304,-121.5,280],[-119.7,269,-118.55,284,-117.53,304,-117.17,318],[-123.93,500,-121.09,484],[-119.99,487,-119.45,490,-119.03,500]];
const had32Labels = [['23.5',-132.32,49,0],['23.5',-123.23,32,-4],['24.5',-129.77,128,0],['24.5',-120.69,73,-4],['25.5',-129.86,194,-2],['25.5',-120.79,136,-4],['26.5',-129.66,333,-2],['26.5',-120.6,274,-4],['27',-120.57,487,0]];

// ---- lookup tables referencing the series above ----
const latitudes = [44, 40, 36, 32];
const models = ['ctrl', 'gfdl', 'ipsl', 'had'];
const coasts = [coast44, coast40, coast36, coast32];
const ctrlLonGrids = [ctrl44Lons, ctrl40Lons, ctrl36Lons, ctrl32Lons];
const ctrlBandSets = [ctrl44Bands, ctrl40Bands, ctrl36Bands, ctrl32Bands];
const ctrlPatches = [[], ctrl40Patch, [], []];
const fillSets = [[null, gfdl44Fill, ipsl44Fill, had44Fill],[null, gfdl40Fill, ipsl40Fill, had40Fill],[null, gfdl36Fill, ipsl36Fill, had36Fill],[null, gfdl32Fill, ipsl32Fill, had32Fill]];
const lineSets = [[ctrl44Lines, gfdl44Lines, ipsl44Lines, had44Lines],[ctrl40Lines, gfdl40Lines, ipsl40Lines, had40Lines],[ctrl36Lines, gfdl36Lines, ipsl36Lines, had36Lines],[ctrl32Lines, gfdl32Lines, ipsl32Lines, had32Lines]];
const labelSets = [[ctrl44Labels, gfdl44Labels, ipsl44Labels, had44Labels],[ctrl40Labels, gfdl40Labels, ipsl40Labels, had40Labels],[ctrl36Labels, gfdl36Labels, ipsl36Labels, had36Labels],[ctrl32Labels, gfdl32Labels, ipsl32Labels, had32Labels]];

// ---- drawing ----
const NS = 'http://www.w3.org/2000/svg';
const LON_MIN = -134, LON_MAX = -115.5, DEPTH_MAX = 500;
const colLeft = [146, 740, 1334, 1928];
const PANEL_W = 553;
const rowTop = [70.5, 308.5, 546.5, 785];
const rowHeight = [211, 211.5, 211.5, 211];

function make(parent, tag, attrs) {
  const el = document.createElementNS(NS, tag);
  for (const k in attrs) el.setAttribute(k, attrs[k]);
  parent.appendChild(el);
  return el;
}
function toPts(flat, sx, sy) {
  const out = [];
  for (let i = 0; i + 1 < flat.length; i += 2) out.push([sx(flat[i]), sy(flat[i + 1])]);
  return out;
}
function f(n) { return n.toFixed(1); }
function unit(p, q) {
  const dx = q[0] - p[0], dy = q[1] - p[1], l = Math.hypot(dx, dy) || 1;
  return [dx / l, dy / l];
}
// chord-length spline segment: control arms scale with the segment itself, so long edges never overshoot
function segment(a, b, c, e) {
  const L = Math.hypot(c[0] - b[0], c[1] - b[1]) / 3;
  const t1 = unit(a, c), t2 = unit(b, e);
  return 'C' + f(b[0] + t1[0] * L) + ' ' + f(b[1] + t1[1] * L) + ' ' + f(c[0] - t2[0] * L) + ' ' + f(c[1] - t2[1] * L) + ' ' + f(c[0]) + ' ' + f(c[1]);
}
function smoothOpen(p) {
  let d = 'M' + f(p[0][0]) + ' ' + f(p[0][1]);
  for (let i = 0; i < p.length - 1; i++) {
    d += segment(p[Math.max(i - 1, 0)], p[i], p[i + 1], p[Math.min(i + 2, p.length - 1)]);
  }
  return d;
}
function smoothClosed(p) {
  const n = p.length;
  let d = 'M' + f(p[0][0]) + ' ' + f(p[0][1]);
  for (let i = 0; i < n; i++) {
    d += segment(p[(i - 1 + n) % n], p[i], p[(i + 1) % n], p[(i + 2) % n]);
  }
  return d + 'Z';
}
function diffColor(level) {
  return diffColors[level > 0 ? 9 + level : 8 + level];
}

const panelRoot = document.getElementById('panels');
const defs = make(panelRoot, 'defs', {});

latitudes.forEach(function (lat, r) {
  models.forEach(function (model, c) {
    const shift = c === 0 ? -1 : 0;
    const left = colLeft[c], top = rowTop[r] + shift, h = rowHeight[r];
    const sx = function (lon) { return left + (lon - LON_MIN) / (LON_MAX - LON_MIN) * PANEL_W; };
    const sy = function (d) { return top + d / DEPTH_MAX * h; };
    const id = model + lat;

    const cpPanel = make(defs, 'clipPath', { id: 'panel-clip-' + id });
    make(cpPanel, 'rect', { x: left, y: top, width: PANEL_W, height: h });
    const cpSea = make(defs, 'clipPath', { id: 'sea-clip-' + id });
    make(cpSea, 'rect', { x: left, y: top, width: sx(seaEdge[r]) - left, height: h });

    const g = make(panelRoot, 'g', {});
    
    

    const bg = make(g, 'rect', { x: left, y: top, width: PANEL_W, height: h, fill: '#fff' });
    
    

    const sea = make(g, 'g', { 'clip-path': 'url(#sea-clip-' + id + ')' });
    
    

    if (c === 0) {
      const base = make(sea, 'rect', { x: left, y: top, width: PANEL_W, height: h, fill: ctrlColors[0] });
      
      
      const lons = ctrlLonGrids[r];
      ctrlBandSets[r].forEach(function (band) {
        const pts = lons.map(function (lon, i) { return [sx(lon), sy(band[i + 1])]; });
        const d = smoothOpen(pts) + 'L' + f(sx(lons[lons.length - 1]) + 4) + ' ' + f(pts[pts.length - 1][1]) + 'L' + f(sx(lons[lons.length - 1]) + 4) + ' ' + f(top + h + 40) + 'L' + f(left - 4) + ' ' + f(top + h + 40) + 'L' + f(left - 4) + ' ' + f(pts[0][1]) + 'Z';
        const path = make(sea, 'path', { d: d, fill: ctrlColors[band[0]] });
        
        
      });
      ctrlPatches[r].forEach(function (patch) {
        const path = make(sea, 'path', { d: smoothClosed(toPts(patch[1], sx, sy)), fill: ctrlColors[patch[0]] });
        
        
      });
    } else {
      fillSets[r][c].forEach(function (poly) {
        const path = make(sea, 'path', { d: smoothClosed(toPts(poly[1], sx, sy)), fill: diffColor(poly[0]) });
        
        
      });
    }

    // land mask
    const coast = toPts(coasts[r], sx, sy);
    const landD = smoothOpen(coast) + 'L' + f(left + PANEL_W) + ' ' + f(top + h) + 'L' + f(left + PANEL_W) + ' ' + f(coast[0][1]) + 'Z';
    const land = make(g, 'path', { d: landD, fill: '#000' });
    
    

    // contours
    const contours = make(g, 'g', { 'clip-path': 'url(#panel-clip-' + id + ')', fill: 'none', stroke: '#1c1c1c', 'stroke-width': '1.2' });
    
    
    lineSets[r][c].forEach(function (line) {
      const path = make(contours, 'path', { d: smoothOpen(toPts(line, sx, sy)) });
      
      
    });
    labelSets[r][c].forEach(function (lab) {
      const x = sx(lab[1]), y = sy(lab[2]);
      const t = make(g, 'text', { x: f(x), y: f(y + 7), 'font-size': '19.5', fill: '#000', 'text-anchor': 'middle', transform: 'rotate(' + lab[3] + ' ' + f(x) + ' ' + f(y) + ')' });
      t.textContent = lab[0];
      
      
    });

    // frame
    const frame = make(g, 'rect', { x: left, y: top, width: PANEL_W, height: h, fill: 'none', stroke: '#8c8c8c', 'stroke-width': '1.2' });
    
    
    const topEdge = make(g, 'line', { x1: left, x2: left + PANEL_W, y1: top, y2: top, stroke: '#6a6a6a', 'stroke-width': '1.6' });
    
    
    lonTicks.forEach(function (v) {
      const tick = make(g, 'line', { x1: f(sx(v)), x2: f(sx(v)), y1: top, y2: top + 4, stroke: '#444', 'stroke-width': '1' });
      
      
      if (r === 3) {
        const t = make(g, 'text', { x: f(sx(v)), y: 1035, 'font-size': '30', fill: '#262626', 'text-anchor': 'middle' });
        t.textContent = String(v);
        
        
      }
    });
    if (c === 0) {
      depthTicks.forEach(function (v) {
        const t = make(g, 'text', { x: 136, y: f(sy(-v) + 12), 'font-size': '30', fill: '#262626', 'text-anchor': 'end' });
        t.textContent = String(v);
        
        
      });
    }
  });
});

// colour bars
const barRoot = document.getElementById('bars');
function drawBar(name, x0, x1, vMin, vMax, colors, ticks, tickLen) {
  const y0 = 1098, y1 = 1132;
  const sv = function (v) { return x0 + (v - vMin) / (vMax - vMin) * (x1 - x0); };
  const step = (vMax - vMin) / colors.length;
  const g = make(barRoot, 'g', {});
  
  
  colors.forEach(function (col, i) {
    const a = sv(vMin + i * step), b = sv(vMin + (i + 1) * step);
    const seg = make(g, 'rect', { x: f(a), y: y0, width: f(b - a + 0.4), height: y1 - y0, fill: col });
    
    
  });
  const border = make(g, 'rect', { x: x0, y: y0, width: x1 - x0, height: y1 - y0, fill: 'none', stroke: '#8c8c8c', 'stroke-width': '1.2' });
  
  
  const edge = make(g, 'line', { x1: x0, x2: x1, y1: y0, y2: y0, stroke: '#555', 'stroke-width': '1.6' });
  
  
  ticks.forEach(function (v) {
    const x = sv(v);
    const tick = make(g, 'line', { x1: f(x), x2: f(x), y1: y1 - tickLen, y2: y1, stroke: '#333', 'stroke-width': '1' });
    
    
    const t = make(g, 'text', { x: f(x), y: 1167, 'font-size': '29', fill: '#262626', 'text-anchor': 'middle' });
    t.textContent = String(v);
    
    
  });
}
drawBar('colorbar-ctrl', 146, 699, 0, 60, ctrlColors, ctrlBarTicks, 6);
drawBar('colorbar-difference', 740, 2481, -10, 10, diffColors, diffBarTicks, 18);
</script>
</body>
</html>
